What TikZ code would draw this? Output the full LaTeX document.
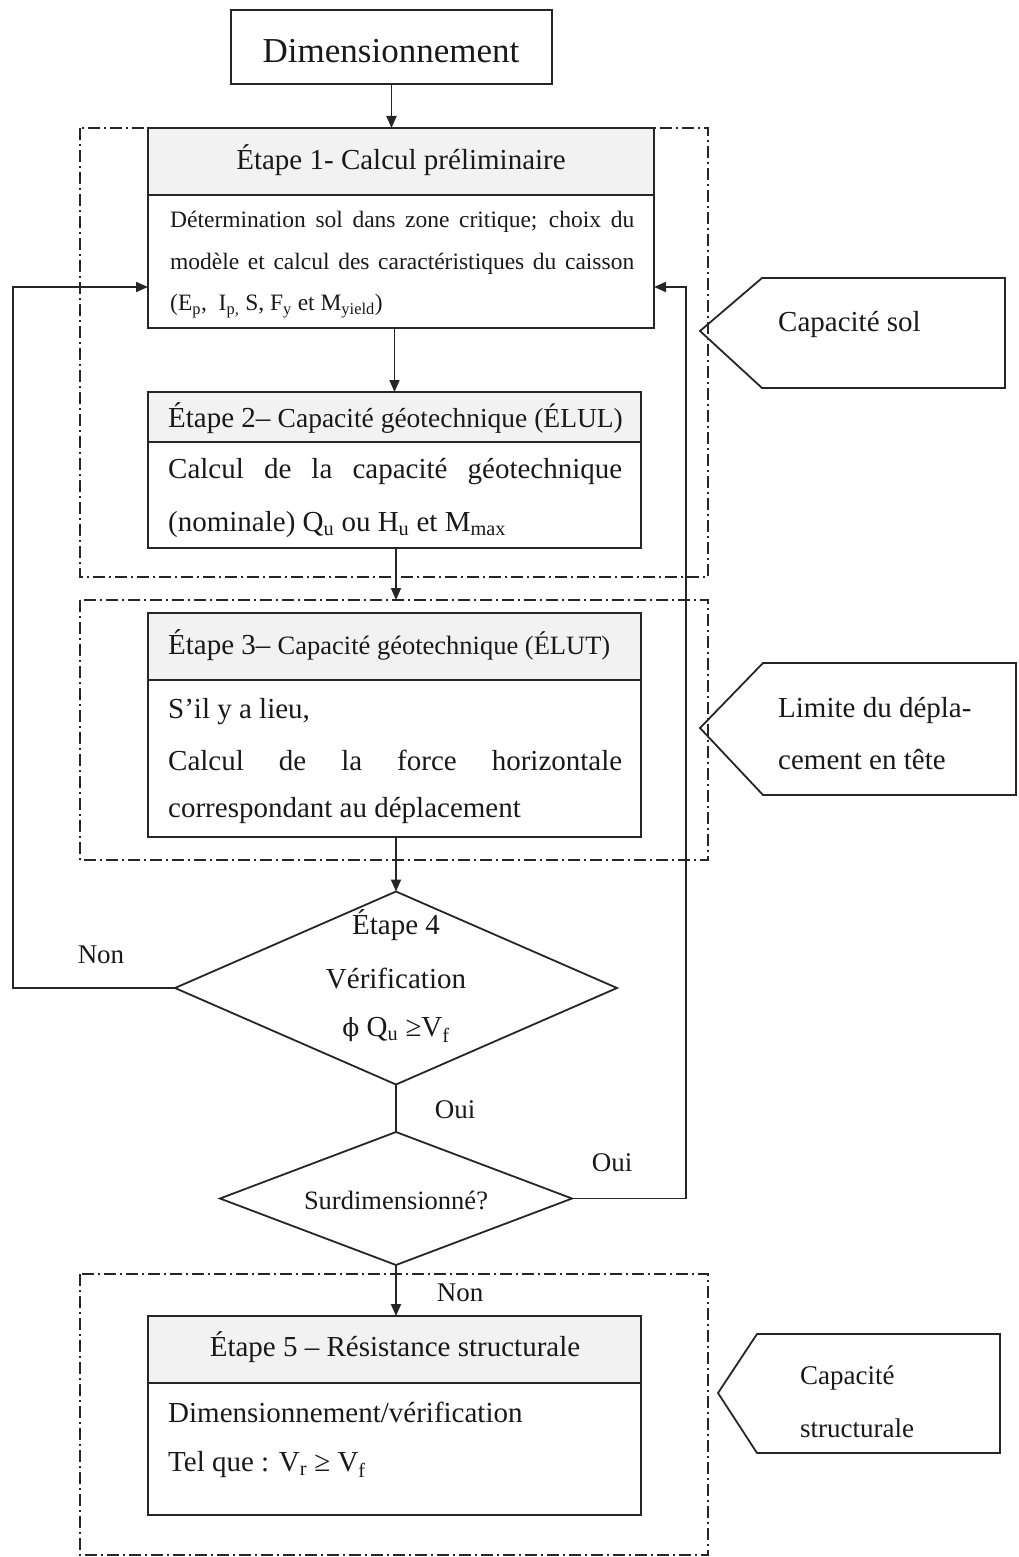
\documentclass[tikz,border=0pt]{standalone}
\usepackage{fontspec}
\setmainfont{Liberation Serif}
\newfontfamily\dvserif{DejaVu Serif}
\usetikzlibrary{arrows.meta,shapes.geometric}
\newcommand{\fs}[1]{\fontsize{#1}{#1}\selectfont}
\begin{document}
\begin{tikzpicture}[x=1pt,y=-1pt,
  ln/.style={draw=black!85,line width=1.8pt},
  arr/.style={ln,-{Triangle[length=12pt,width=10pt]}},
  frame/.style={draw=black!85,line width=1.9pt,dash pattern=on 12pt off 4pt on 2pt off 4pt},
  box/.style={draw=black!85,line width=1.8pt,inner sep=0pt,outer sep=0pt,anchor=north west,rectangle},
  hdr/.style={box,fill=gray!10},
  txt/.style={inner sep=0pt,text=black!90,font=\fs{29}},
  ltxt/.style={txt,anchor=west},
  small/.style={inner sep=0pt,text=black!90,font=\fs{23.5},anchor=west},
  dia/.style={draw=black!85,line width=1.8pt,shape=diamond,inner sep=0pt,outer sep=0pt},
  tag/.style={draw=black!85,line width=1.8pt}
]
\useasboundingbox (0,0) rectangle (1018,1557);

% dash-dot frames
\draw[frame] (80,128) rectangle (708,577);
\draw[frame] (80,600) rectangle (708,860);
\draw[frame] (80,1274) rectangle (708,1555);
\coordinate (f2top) at (80,600);

% Dimensionnement
\node[box,minimum width=321pt,minimum height=74pt] (dim) at (231,10) {};
\node[txt,font=\fs{35}] (dimt) at (391,51) {Dimensionnement};

% Step 1
\node[box,minimum width=506pt,minimum height=200pt] (s1) at (148,128) {};
\node[hdr,minimum width=506pt,minimum height=67pt] (s1h) at (148,128) {};
\node[txt] (s1t) at (401,160) {Étape 1- Calcul préliminaire};
\node[small] (s1a) at (170,222) {\makebox[464pt][s]{Détermination sol dans zone critique; choix du}};
\node[small] (s1b) at (170,264) {\makebox[464pt][s]{modèle et calcul des caractéristiques du caisson}};
\node[small] (s1c) at (170,306) {(E\textsubscript{p}, \ I\textsubscript{p,} S, F\textsubscript{y} et M\textsubscript{yield})};

% Step 2
\node[box,minimum width=493pt,minimum height=156pt] (s2) at (148,392) {};
\node[hdr,minimum width=493pt,minimum height=50pt] (s2h) at (148,392) {};
\node[ltxt] (s2t) at (168,418) {Étape 2– {\fs{27.5}Capacité géotechnique (ÉLUL)}};
\node[ltxt] (s2a) at (168,472) {\makebox[454pt][s]{Calcul de la capacité géotechnique}};
\node[ltxt] (s2b) at (168,525) {(nominale) Q\textsubscript{u} ou H\textsubscript{u} et M\textsubscript{max}};

% Step 3
\node[box,minimum width=493pt,minimum height=224pt] (s3) at (148,613) {};
\node[hdr,minimum width=493pt,minimum height=67pt] (s3h) at (148,613) {};
\node[ltxt] (s3t) at (168,645) {Étape 3– {\fs{26.5}Capacité géotechnique (ÉLUT)}};
\node[ltxt] (s3a) at (168,712) {S’il y a lieu,};
\node[ltxt] (s3b) at (168,760) {\makebox[454pt][s]{Calcul de la force horizontale}};
\node[ltxt] (s3c) at (168,810) {correspondant au déplacement};

% Decisions
\node[dia,minimum width=442pt,minimum height=193pt,aspect=2.29] (d1) at (396,988) {};
\node[txt] (d1a) at (396,925) {Étape 4};
\node[txt] (d1b) at (396,978) {Vérification};
\node[txt] (d1c) at (396,1030) {{\dvserif\fs{25}ϕ} Q\textsubscript{u} ≥V\textsubscript{f}};

\node[dia,minimum width=352pt,minimum height=133pt,aspect=2.65] (d2) at (396,1198.5) {};
\node[txt,font=\fs{26.5}] (d2a) at (396,1200) {Surdimensionné?};

% Step 5
\node[box,minimum width=493pt,minimum height=199pt] (s5) at (148,1316) {};
\node[hdr,minimum width=493pt,minimum height=67pt] (s5h) at (148,1316) {};
\node[txt] (s5t) at (395,1347) {Étape 5 – Résistance structurale};
\node[ltxt] (s5a) at (168,1412) {Dimensionnement/vérification};
\node[ltxt] (s5b) at (168,1465) {Tel que : V\textsubscript{r} ≥ V\textsubscript{f}};

% connectors
\draw[arr] (dim.south) -- (dim.south |- s1.north);
\draw[arr] (s2.north |- s1.south) -- (s2.north);
\draw[arr] (d1.north |- s2.south) -- (d1.north |- f2top);
\draw[arr] (d1.north |- s3.south) -- (d1.north);
\draw[ln] (d1.south) -- (d2.north);
\draw[arr] (d2.south) -- (d2.south |- s5.north);
\coordinate (lc) at (13,287);
\coordinate (rc) at (686,287);
\draw[arr] (d1.west) -| (lc) -- (lc -| s1.west);
\draw[arr] (d2.east) -| (rc) -- (rc -| s1.east);

% labels
\node[txt,font=\fs{27}] (non1) at (101,955) {Non};
\node[txt,font=\fs{27}] (oui1) at (455,1110) {Oui};
\node[txt,font=\fs{27}] (oui2) at (612,1163) {Oui};
\node[txt,font=\fs{27}] (non2) at (460,1293) {Non};

% side tags
\draw[tag] (700,331) -- (762,278) -- (1005,278) -- (1005,388) -- (762,388) -- cycle;
\node[ltxt] (p1) at (778,325) {Capacité sol};
\draw[tag] (700,728) -- (763,663) -- (1016,663) -- (1016,795) -- (763,795) -- cycle;
\node[ltxt] (p2a) at (778,710) {Limite du dépla-};
\node[ltxt] (p2b) at (778,760) {cement en tête};
\draw[tag] (718,1393) -- (757,1334) -- (1000,1334) -- (1000,1453) -- (757,1453) -- cycle;
\node[ltxt,font=\fs{27}] (p3a) at (800,1378) {Capacité};
\node[ltxt,font=\fs{27}] (p3b) at (800,1428) {structurale};
\end{tikzpicture}
\end{document}
